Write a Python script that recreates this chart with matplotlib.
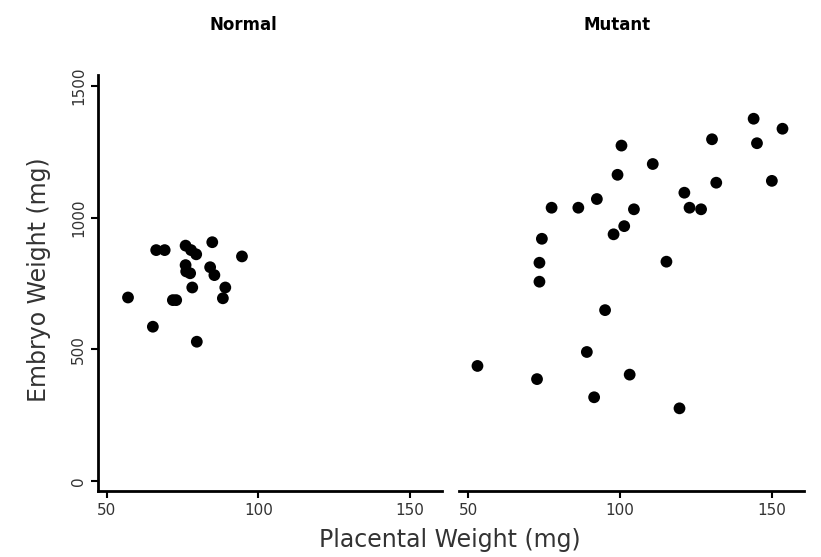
import numpy as np
import matplotlib.pyplot as plt

# placental weight (mg), embryo weight (mg)
normal_placenta = [57.0, 65.2, 66.3, 69.1, 71.8, 72.9, 76.0, 77.8, 79.5, 76.0,
                   76.2, 77.5, 78.2, 79.7, 84.8, 84.1, 85.5, 89.1, 88.3, 94.6]
normal_embryo = [697, 586, 877, 877, 687, 687, 894, 877, 861, 820,
                 796, 789, 735, 529, 907, 812, 782, 735, 694, 853]

mutant_placenta = [53.1, 72.7, 73.5, 73.5, 74.3, 77.5, 86.3, 92.4, 89.1, 91.5,
                   95.1, 97.9, 101.4, 99.2, 100.5, 103.2, 104.6, 110.8, 115.3, 119.6,
                   121.2, 122.9, 126.7, 130.3, 131.7, 144.0, 145.1, 153.5, 150.0]
mutant_embryo = [437, 387, 757, 829, 920, 1038, 1038, 1071, 490, 318,
                 649, 937, 968, 1163, 1274, 404, 1032, 1204, 833, 276,
                 1095, 1038, 1032, 1298, 1133, 1376, 1283, 1338, 1140]

x_ticks = [50, 100, 150]
y_ticks = [0, 500, 1000, 1500]

plt.rcParams['font.family'] = ['DejaVu Sans']

fig = plt.figure(figsize=(8.21, 5.57), dpi=100)
ax1 = fig.add_axes([0.119, 0.1185, 0.419, 0.7468])
ax2 = fig.add_axes([0.559, 0.1185, 0.420, 0.7468])

for ax, xs, ys in [(ax1, normal_placenta, normal_embryo), (ax2, mutant_placenta, mutant_embryo)]:
    ax.scatter(xs, ys, s=72, color='black', edgecolors='none', zorder=3)
    ax.set_xlim(47, 160.5)
    ax.set_ylim(-38, 1542)
    ax.set_xticks(x_ticks)
    ax.spines['top'].set_visible(False)
    ax.spines['right'].set_visible(False)
    ax.spines['bottom'].set_linewidth(2)
    ax.spines['left'].set_linewidth(2)
    ax.tick_params(axis='both', direction='out', length=5, width=1.5,
                   labelsize=11, labelcolor='#333333')

ax1.set_yticks(y_ticks)
ax1.set_yticklabels([str(v) for v in y_ticks], rotation=90, va='center')
ax2.spines['left'].set_visible(False)
ax2.set_yticks([])

fig.text(0.296, 0.955, 'Normal', ha='center', va='center', fontsize=12,
         fontweight='bold')
fig.text(0.752, 0.955, 'Mutant', ha='center', va='center', fontsize=12,
         fontweight='bold')
fig.text(0.548, 0.03, 'Placental Weight (mg)', ha='center', va='center',
         fontsize=17, color='#333333')
fig.text(0.048, 0.497, 'Embryo Weight (mg)', ha='center', va='center',
         rotation=90, fontsize=17, color='#333333')

fig.savefig('out.png', dpi=100)
